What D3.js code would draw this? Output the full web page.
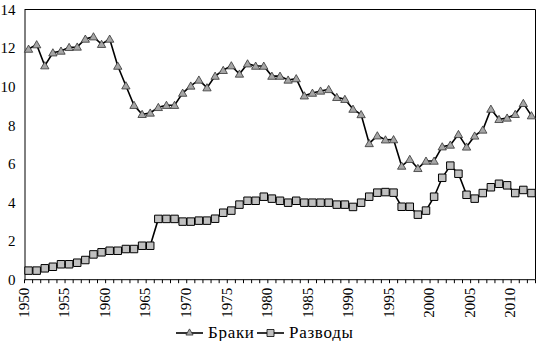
<!DOCTYPE html>
<html>
<head>
<meta charset="utf-8">
<script src="https://cdn.jsdelivr.net/npm/d3@7"></script>
<style>
  html, body { margin: 0; padding: 0; background: #fff; }
  svg { display: block; }
  svg text { font-family: "Liberation Serif", "Times New Roman", "DejaVu Serif", serif !important; fill: #000; }
</style>
</head>
<body>
<svg id="chart" width="536" height="341"></svg>
<script>
// Years 1950–2012
const years = d3.range(1950, 2013);

// Marriages per 1000 population
const marriages = [
  11.95, 12.18, 11.09, 11.76, 11.85, 12.04, 12.06, 12.47, 12.59, 12.2,
  12.47, 11.07, 10.05, 9.04, 8.57, 8.64, 8.93, 9.04, 9.04, 9.67,
  10.04, 10.35, 9.95, 10.55, 10.85, 11.09, 10.66, 11.19, 11.07, 11.07,
  10.55, 10.55, 10.35, 10.42, 9.53, 9.67, 9.78, 9.86, 9.45, 9.35,
  8.84, 8.56, 7.06, 7.46, 7.25, 7.26, 5.89, 6.24, 5.77, 6.15,
  6.15, 6.89, 6.98, 7.53, 6.88, 7.45, 7.76, 8.84, 8.31, 8.38,
  8.57, 9.14, 8.5
];

// Divorces per 1000 population
const divorces = [
  0.47, 0.47, 0.59, 0.67, 0.8, 0.8, 0.88, 1.02, 1.31, 1.42,
  1.5, 1.5, 1.59, 1.59, 1.76, 1.76, 3.15, 3.15, 3.15, 3.01,
  3.01, 3.06, 3.06, 3.16, 3.47, 3.58, 3.89, 4.09, 4.09, 4.3,
  4.2, 4.09, 3.99, 4.09, 3.99, 3.99, 3.99, 3.99, 3.89, 3.89,
  3.77, 3.99, 4.3, 4.51, 4.54, 4.51, 3.78, 3.78, 3.37, 3.58,
  4.3, 5.28, 5.91, 5.49, 4.4, 4.2, 4.49, 4.79, 4.97, 4.89,
  4.49, 4.65, 4.49
];

const yTicks = [0, 2, 4, 6, 8, 10, 12, 14];
const seriesNames = ["Браки", "Разводы"];

const FONT = "'Liberation Serif', 'Times New Roman', 'DejaVu Serif', serif";

const svg = d3.select("#chart");
const plot = { left: 24.5, right: 535.5, top: 9.5, bottom: 279.7 };

const x = d3.scaleBand().domain(years).range([plot.left, plot.right]).padding(0);
const y = d3.scaleLinear().domain([0, 14]).range([plot.bottom, plot.top]);
const cx = yr => x(yr) + x.bandwidth() / 2;

// Frame: top and right edges
svg.append("path")
  .attr("d", `M${plot.left},${plot.top}H${plot.right}V${plot.bottom}`)
  .attr("fill", "none").attr("stroke", "#000").attr("stroke-width", 1);

// Y axis
const yAxis = svg.append("g")
  .attr("transform", `translate(${plot.left},0)`)
  .call(d3.axisLeft(y).tickValues(yTicks).tickSize(0).tickPadding(9).tickFormat(d3.format("d")))
  .attr("font-family", FONT).attr("font-size", 15);
yAxis.select(".domain").attr("stroke", "#000");
yAxis.selectAll("text").style("font-family", FONT).style("font-size", "15px");

// X axis: a tick at every category boundary
const xAxisG = svg.append("g").attr("transform", `translate(0,${plot.bottom})`);
xAxisG.append("line")
  .attr("x1", plot.left).attr("x2", plot.right)
  .attr("stroke", "#000");
const boundaries = years.map(yr => x(yr)).concat([plot.right]);
xAxisG.selectAll("line.tick").data(boundaries).join("line")
  .attr("class", "tick")
  .attr("x1", d => d).attr("x2", d => d)
  .attr("y1", 0).attr("y2", 3.5)
  .attr("stroke", "#000");
xAxisG.selectAll("text").data(years.filter(yr => yr % 5 === 0)).join("text")
  .attr("transform", yr => `translate(${x(yr) - 1},${8}) rotate(-90)`)
  .attr("text-anchor", "end")
  .attr("dy", "0.35em")
  .style("font-family", FONT).style("font-size", "15px")
  .text(d => d);

// Lines
const line = d3.line().x(d => cx(d[0])).y(d => y(d[1]));
const mData = years.map((yr, i) => [yr, marriages[i]]);
const dData = years.map((yr, i) => [yr, divorces[i]]);

svg.append("path").datum(dData).attr("d", line)
  .attr("fill", "none").attr("stroke", "#000").attr("stroke-width", 1.6);
svg.append("path").datum(mData).attr("d", line)
  .attr("fill", "none").attr("stroke", "#000").attr("stroke-width", 1.6);

const tri = d3.symbol().type(d3.symbolTriangle).size(30);
const sq = d3.symbol().type(d3.symbolSquare).size(56);

svg.append("g").selectAll("path").data(dData).join("path")
  .attr("d", sq)
  .attr("transform", d => `translate(${cx(d[0])},${y(d[1])})`)
  .attr("fill", "#c0c0c0").attr("stroke", "#000").attr("stroke-width", 1);

svg.append("g").selectAll("path").data(mData).join("path")
  .attr("d", tri)
  .attr("transform", d => `translate(${cx(d[0])},${y(d[1]) + 0.8})`)
  .attr("fill", "#a6a6a6").attr("stroke", "#333").attr("stroke-width", 0.8);

// Legend
const legend = svg.append("g");
const items = [
  { name: seriesNames[0], x0: 176, sym: d3.symbol().type(d3.symbolTriangle).size(22), fill: "#a6a6a6", stroke: "#333" },
  { name: seriesNames[1], x0: 257, sym: d3.symbol().type(d3.symbolSquare).size(49), fill: "#c0c0c0", stroke: "#000" }
];
const ly = 333;
items.forEach(it => {
  legend.append("line")
    .attr("x1", it.x0).attr("x2", it.x0 + 27)
    .attr("y1", ly).attr("y2", ly)
    .attr("stroke", "#000").attr("stroke-width", 1.6);
  legend.append("path").attr("d", it.sym)
    .attr("transform", `translate(${it.x0 + 13.5},${ly})`)
    .attr("fill", it.fill).attr("stroke", it.stroke).attr("stroke-width", 0.8);
  legend.append("text")
    .attr("x", it.x0 + 32).attr("y", ly + 5)
    .style("font-family", FONT).style("font-size", "17px")
    .style("letter-spacing", "0.7px")
    .text(it.name);
});
</script>
</body>
</html>
